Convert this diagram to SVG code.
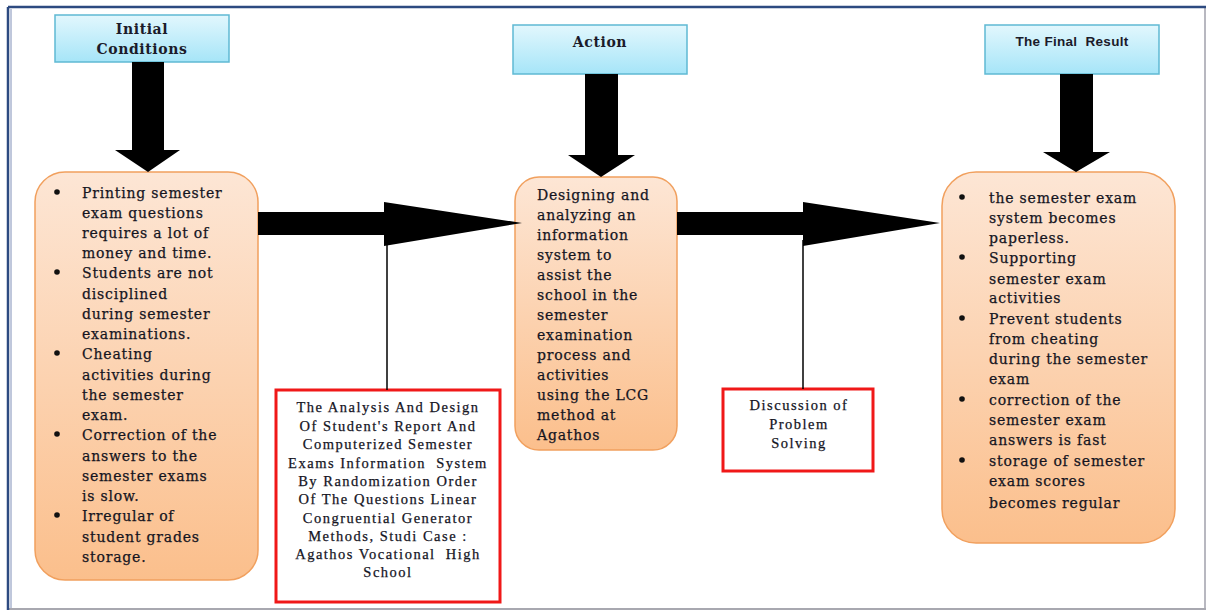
<svg xmlns="http://www.w3.org/2000/svg" width="1208" height="612" viewBox="0 0 1208 612">
<defs>
<linearGradient id="gHead" x1="0" y1="0" x2="0" y2="1"><stop offset="0" stop-color="#e2f7fd"/><stop offset="1" stop-color="#a6e5f8"/></linearGradient>
<linearGradient id="gBox" x1="0" y1="0" x2="0" y2="1"><stop offset="0" stop-color="#fde6d5"/><stop offset="1" stop-color="#fbbf8c"/></linearGradient>
<style>
.head{fill:url(#gHead);stroke:#5fb9d3;stroke-width:1.5}
.box{fill:url(#gBox);stroke:#f1a05e;stroke-width:1.5}
.red{fill:#fff;stroke:#f01818;stroke-width:3}
.t{font-family:"DejaVu Serif",serif;font-size:14px;letter-spacing:0.8px;fill:#15151f;stroke:#15151f;stroke-width:0.25}
.hb{font-family:"DejaVu Serif",serif;font-size:14px;font-weight:bold;letter-spacing:0.6px;fill:#1b1b2a;text-anchor:middle}
.hs{font-family:"Liberation Sans",Arial,sans-serif;font-size:13.5px;font-weight:bold;letter-spacing:0.3px;fill:#1b1b2a;text-anchor:middle;white-space:pre}
.r{font-family:"Liberation Serif","Times New Roman",serif;font-size:14.5px;letter-spacing:1.5px;fill:#15151f;stroke:#15151f;stroke-width:0.25;text-anchor:middle;white-space:pre}
.arr{fill:#000}
.ln{stroke:#000;stroke-width:1.5;fill:none}
</style>
</defs>
<rect width="1208" height="612" fill="#fff"/>
<g id="frame">
<line x1="1205" y1="7" x2="1205" y2="609" stroke="#b8b8c0" stroke-width="2"/>
<line x1="8" y1="609" x2="1206" y2="609" stroke="#a8a8b0" stroke-width="2"/>
<line x1="8" y1="7" x2="1206" y2="7" stroke="#2d4a80" stroke-width="2.5"/>
<line x1="8" y1="7" x2="8" y2="610" stroke="#2d4a80" stroke-width="2.5"/>
<line x1="11" y1="9" x2="11" y2="608" stroke="#8090b8" stroke-width="1"/>
</g>
<g id="h-initial">
<rect class="head" x="55" y="15" width="174" height="47"/>
<text class="hb" x="142" y="34">Initial</text>
<text class="hb" x="142" y="54">Conditions</text>
</g>
<g id="h-action">
<rect class="head" x="513" y="25" width="174" height="49"/>
<text class="hb" x="600" y="47">Action</text>
</g>
<g id="h-final">
<rect class="head" x="985" y="25" width="174" height="49"/>
<text class="hs" x="1072" y="46">The Final  Result</text>
</g>
<g id="n-initial">
<rect class="box" x="35" y="172" width="223" height="408" rx="30"/>
<g fill="#111"><circle cx="57" cy="192" r="2.8"/><circle cx="57" cy="272" r="2.8"/><circle cx="57" cy="353" r="2.8"/><circle cx="57" cy="434" r="2.8"/><circle cx="57" cy="515" r="2.8"/></g>
<text class="t" x="82" y="198">Printing semester</text>
<text class="t" x="82" y="218">exam questions</text>
<text class="t" x="82" y="238">requires a lot of</text>
<text class="t" x="82" y="258">money and time.</text>
<text class="t" x="82" y="278">Students are not</text>
<text class="t" x="82" y="299">disciplined</text>
<text class="t" x="82" y="319">during semester</text>
<text class="t" x="82" y="339">examinations.</text>
<text class="t" x="82" y="359">Cheating</text>
<text class="t" x="82" y="380">activities during</text>
<text class="t" x="82" y="400">the semester</text>
<text class="t" x="82" y="420">exam.</text>
<text class="t" x="82" y="440">Correction of the</text>
<text class="t" x="82" y="461">answers to the</text>
<text class="t" x="82" y="481">semester exams</text>
<text class="t" x="82" y="501">is slow.</text>
<text class="t" x="82" y="521">Irregular of</text>
<text class="t" x="82" y="542">student grades</text>
<text class="t" x="82" y="562">storage.</text>
</g>
<g id="n-action">
<rect class="box" x="515" y="177" width="162" height="273" rx="24"/>
<text class="t" x="537" y="200">Designing and</text>
<text class="t" x="537" y="220">analyzing an</text>
<text class="t" x="537" y="240">information</text>
<text class="t" x="537" y="260">system to</text>
<text class="t" x="537" y="280">assist the</text>
<text class="t" x="537" y="300">school in the</text>
<text class="t" x="537" y="320">semester</text>
<text class="t" x="537" y="340">examination</text>
<text class="t" x="537" y="360">process and</text>
<text class="t" x="537" y="380">activities</text>
<text class="t" x="537" y="400">using the LCG</text>
<text class="t" x="537" y="420">method at</text>
<text class="t" x="537" y="440">Agathos</text>
</g>
<g id="n-final">
<rect class="box" x="942" y="172" width="233" height="371" rx="34"/>
<g fill="#111"><circle cx="962" cy="197" r="2.8"/><circle cx="962" cy="257" r="2.8"/><circle cx="962" cy="318" r="2.8"/><circle cx="962" cy="399" r="2.8"/><circle cx="962" cy="460" r="2.8"/></g>
<text class="t" x="989" y="203">the semester exam</text>
<text class="t" x="989" y="223">system becomes</text>
<text class="t" x="989" y="243">paperless.</text>
<text class="t" x="989" y="263">Supporting</text>
<text class="t" x="989" y="284">semester exam</text>
<text class="t" x="989" y="303">activities</text>
<text class="t" x="989" y="324">Prevent students</text>
<text class="t" x="989" y="344">from cheating</text>
<text class="t" x="989" y="364">during the semester</text>
<text class="t" x="989" y="384">exam</text>
<text class="t" x="989" y="405">correction of the</text>
<text class="t" x="989" y="425">semester exam</text>
<text class="t" x="989" y="445">answers is fast</text>
<text class="t" x="989" y="466">storage of semester</text>
<text class="t" x="989" y="486">exam scores</text>
<text class="t" x="989" y="508">becomes regular</text>
</g>
<g id="n-title">
<rect class="red" x="276" y="390" width="224" height="212"/>
<text class="r" x="388" y="412">The Analysis And Design</text>
<text class="r" x="388" y="431">Of Student's Report And</text>
<text class="r" x="388" y="449">Computerized Semester</text>
<text class="r" x="388" y="468">Exams Information  System</text>
<text class="r" x="388" y="486">By Randomization Order</text>
<text class="r" x="388" y="504">Of The Questions Linear</text>
<text class="r" x="388" y="523">Congruential Generator</text>
<text class="r" x="388" y="541">Methods, Studi Case :</text>
<text class="r" x="388" y="559">Agathos Vocational  High</text>
<text class="r" x="388" y="577">School</text>
</g>
<g id="n-discussion">
<rect class="red" x="723" y="389" width="150" height="82"/>
<text class="r" x="799" y="410">Discussion of</text>
<text class="r" x="799" y="429">Problem</text>
<text class="r" x="799" y="448">Solving</text>
</g>
<g id="connectors">
<polygon class="arr" points="132,62 164,62 164,150 180,150 148,172 115,150 132,150"/>
<polygon class="arr" points="585,74 618,74 618,155 635,155 601,177 568,155 585,155"/>
<polygon class="arr" points="1060,74 1093,74 1093,152 1110,152 1076,172 1043,152 1060,152"/>
<polygon class="arr" points="258,212 384,212 384,202 522,223 384,246 384,235 258,235"/>
<polygon class="arr" points="677,212 803,212 803,202 940,223 803,246 803,235 677,235"/>
<line class="ln" x1="387" y1="240" x2="387" y2="390"/>
<line class="ln" x1="803" y1="240" x2="803" y2="389"/>
</g>
</svg>
